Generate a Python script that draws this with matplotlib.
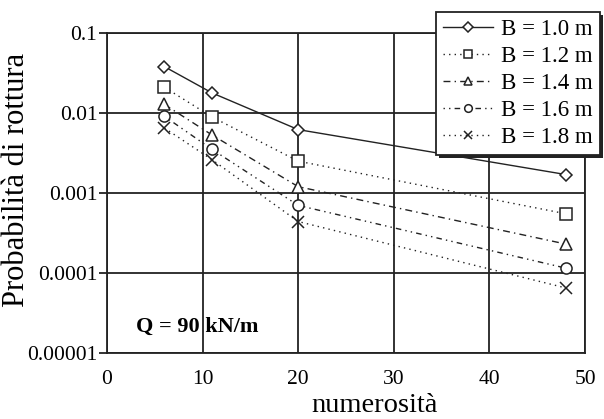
import matplotlib
matplotlib.use("Agg")
import matplotlib.pyplot as plt
from matplotlib.ticker import FixedLocator, FixedFormatter

plt.rcParams['font.family'] = ['Liberation Serif', 'DejaVu Serif']

numerosita = [6, 11, 20, 48]
p_b10 = [0.038, 0.0178, 0.0062, 0.0017]
p_b12 = [0.021, 0.0089, 0.0025, 0.00055]
p_b14 = [0.0128, 0.0053, 0.0012, 0.00023]
p_b16 = [0.0091, 0.0035, 0.0007, 0.000115]
p_b18 = [0.0065, 0.0026, 0.00044, 0.000065]
labels = ['B = 1.0 m', 'B = 1.2 m', 'B = 1.4 m', 'B = 1.6 m', 'B = 1.8 m']
y_ticks = [0.00001, 0.0001, 0.001, 0.01, 0.1]
y_ticklabels = ['0.00001', '0.0001', '0.001', '0.01', '0.1']

fig = plt.figure(figsize=(6.04, 4.19), dpi=100)
ax = fig.add_axes([107 / 604, 1 - 353 / 419, 478 / 604, 320 / 419])

series = [p_b10, p_b12, p_b14, p_b16, p_b18]
markers = ['D', 's', '^', 'o', 'x']
msizes = [6, 8, 8, 8, 8]
styles = ['-', (0, (1, 3)), (0, (5, 3, 1, 3)), (0, (1, 3, 1, 3, 4, 3)), (0, (1, 3))]

for vals, lab, m, ms, ls in zip(series, labels, markers, msizes, styles):
    ax.plot(numerosita, vals, color='#222222', lw=1.0, ls=ls, marker=m, ms=ms,
            mfc='white', mec='#222222', mew=1.1, label=lab)

ax.set_yscale('log')
ax.set_xlim(0, 50)
ax.set_ylim(0.00001, 0.1)
ax.yaxis.set_major_locator(FixedLocator(y_ticks))
ax.yaxis.set_major_formatter(FixedFormatter(y_ticklabels))
ax.yaxis.set_minor_locator(FixedLocator([]))
ax.set_xticks([0, 10, 20, 30, 40, 50])
ax.grid(True, color='#222222', lw=1.3)
ax.tick_params(axis='y', length=6, width=1.3, color='#222222', labelsize=15.5, pad=1)
ax.tick_params(axis='x', length=0, labelsize=15.5, pad=12)
for s in ax.spines.values():
    s.set_color('#222222')
    s.set_linewidth(1.3)

ax.set_xlabel('numerosità', fontsize=20.5)
ax.xaxis.set_label_coords(0.56, -0.125)
ax.set_ylabel('Probabilità di rottura', fontsize=22)
ax.yaxis.set_label_coords(-0.16, 0.54)
ax.text(0.061, 0.081, 'Q = 90 kN/m', transform=ax.transAxes, fontsize=16,
        fontweight='bold', va='center', ha='left')

leg = fig.legend(loc='upper right', bbox_to_anchor=(600 / 604, 1 - 12 / 419),
                 fontsize=16.5, frameon=True, fancybox=False,
                 shadow={'color': '#222222', 'alpha': 1},
                 handlelength=2.2, handletextpad=0.35, labelspacing=0.26,
                 borderpad=0.3, borderaxespad=0)
leg.shadow = False
for h in leg.get_lines():
    h.set_markersize(5.5)
frame = leg.get_frame()
frame.set_edgecolor('#222222')
frame.set_linewidth(1.3)
frame.set_facecolor('white')

# thin drop shadow along the bottom and right edges of the legend box
fig.canvas.draw()
bb = leg.get_window_extent().transformed(fig.transFigure.inverted())
dx, dy = 3 / 604, 3 / 419
fig.patches.append(plt.Rectangle((bb.x0 + dx, bb.y0 - dy), bb.width, bb.height,
                                 transform=fig.transFigure, facecolor='#222222',
                                 edgecolor='none', zorder=leg.get_zorder() - 0.1))

fig.savefig('out.png', dpi=100)
